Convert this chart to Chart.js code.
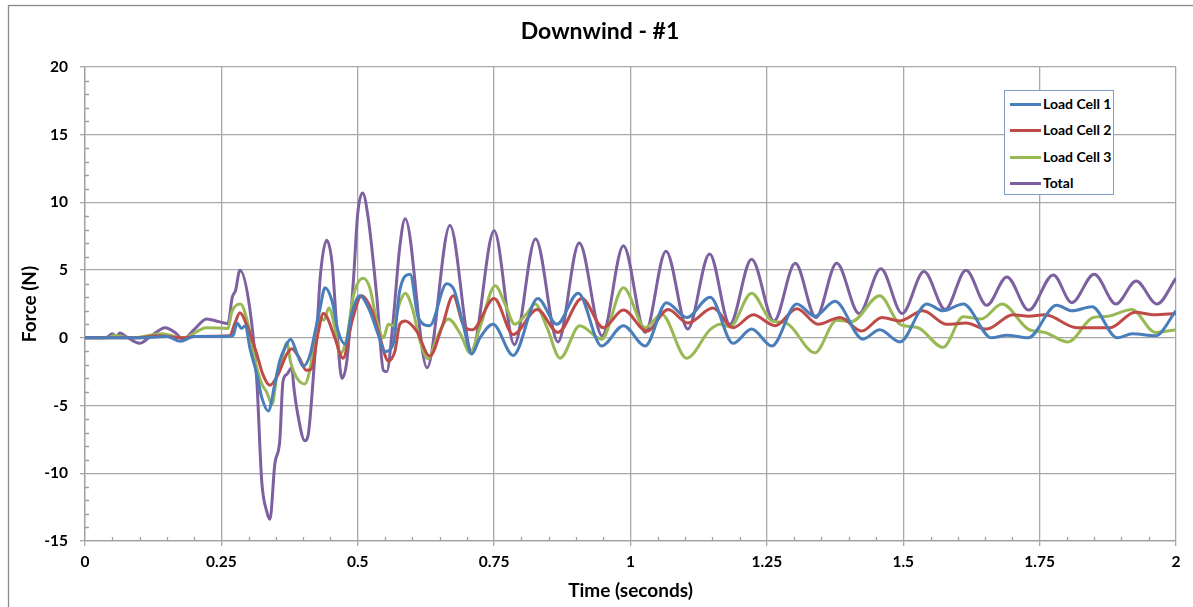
<!DOCTYPE html>
<html>
<head>
<meta charset="utf-8">
<title>Downwind - #1</title>
<script src="https://cdn.jsdelivr.net/npm/chart.js@4.4.1/dist/chart.umd.min.js"></script>
<style>
  body { margin: 0; background: #fff; }
  #wrap { position: relative; width: 1193px; height: 607px; }
  #legend {
    position: absolute; left: 1004px; top: 90px; width: 110px; height: 105px;
    border: 1px solid #7f9ccb; background: #fff; box-sizing: border-box;
    font: bold 14px Lato, "Liberation Sans", sans-serif; color: #000;
  }
  .item { position: absolute; left: 5px; height: 16px; line-height: 16px; white-space: nowrap; }
  .item i { display: inline-block; width: 31px; height: 3px; vertical-align: middle; margin-right: 2px; position: relative; top: -1px; }
</style>
</head>
<body>
<div id="wrap">
  <canvas id="myChart"></canvas>
  <div id="legend"></div>
</div>
<script>
// 시간(초) / 힘(N) 값 - 그림에서 읽은 값
var lc1Time = [0, 0.1, 0.15, 0.175, 0.2, 0.26, 0.271, 0.279, 0.287, 0.294, 0.302, 0.315, 0.324, 0.336, 0.348, 0.357, 0.367, 0.377, 0.389, 0.4, 0.413, 0.421, 0.431, 0.44, 0.453, 0.464, 0.477, 0.489, 0.504, 0.522, 0.537, 0.55, 0.565, 0.577, 0.596, 0.611, 0.632, 0.663, 0.677, 0.693, 0.709, 0.724, 0.748, 0.785, 0.83, 0.865, 0.904, 0.947, 0.987, 1.027, 1.066, 1.103, 1.146, 1.188, 1.222, 1.259, 1.305, 1.338, 1.375, 1.426, 1.457, 1.494, 1.543, 1.573, 1.61, 1.662, 1.69, 1.729, 1.781, 1.81, 1.846, 1.892, 1.92, 1.962, 2.0];
var lc1Force = [0, 0, 0.1, -0.25, 0.1, 0.1, 0.15, 1.1, 0.7, 0.9, -0.7, -2.7, -4.4, -5.4, -3.4, -1.7, -0.7, -0.1, -1.2, -2.1, -1.2, 0.3, 2.2, 3.7, 2.7, 0.5, -0.45, 1.8, 3.1, 2.0, 0.3, -1.0, -0.45, 3.5, 4.7, 1.5, 0.9, 4.0, 3.5, 1.0, -1.2, 0.0, 1.0, -1.3, 2.9, 1.0, 3.3, -0.6, 0.9, -0.6, 2.6, 1.5, 3.0, -0.4, 0.65, -0.6, 2.5, 1.6, 2.7, -0.1, 0.6, -0.3, 2.5, 2.0, 2.5, 0.0, 0.2, 0.0, 2.4, 2.0, 2.3, 0.0, 0.3, 0.15, 2.0];

var lc2Time = [0, 0.1, 0.13, 0.18, 0.2, 0.265, 0.275, 0.284, 0.297, 0.315, 0.326, 0.339, 0.354, 0.37, 0.379, 0.393, 0.406, 0.415, 0.427, 0.437, 0.444, 0.458, 0.473, 0.49, 0.507, 0.526, 0.541, 0.556, 0.568, 0.577, 0.587, 0.608, 0.632, 0.654, 0.675, 0.693, 0.71, 0.75, 0.785, 0.829, 0.867, 0.911, 0.95, 0.987, 1.03, 1.069, 1.105, 1.151, 1.188, 1.225, 1.265, 1.305, 1.344, 1.384, 1.424, 1.461, 1.494, 1.536, 1.58, 1.615, 1.653, 1.701, 1.73, 1.76, 1.818, 1.879, 1.925, 1.96, 2.0];
var lc2Force = [0, 0, 0.15, 0, 0.1, 0.15, 1.1, 1.85, 0.9, -1.2, -2.7, -3.5, -2.7, -1.2, -0.8, -1.5, -2.4, -2.3, 0.3, 1.8, 1.5, 0.0, -1.5, 1.3, 3.1, 2.0, 0.0, -1.7, -1.0, 1.0, 1.25, 0.5, -1.35, 0.75, 3.1, 1.0, 0.6, 2.9, 0.25, 2.1, 0.4, 2.9, 0.75, 2.05, 0.5, 2.1, 1.1, 2.2, 0.75, 1.7, 0.9, 2.15, 1.0, 1.5, 0.5, 1.5, 1.25, 2.0, 1.0, 1.1, 0.65, 1.7, 1.6, 1.7, 0.75, 0.75, 1.9, 1.7, 1.8];

var lc3Time = [0, 0.04, 0.055, 0.065, 0.09, 0.14, 0.18, 0.223, 0.262, 0.269, 0.285, 0.299, 0.312, 0.324, 0.333, 0.343, 0.352, 0.361, 0.37, 0.377, 0.389, 0.403, 0.413, 0.421, 0.431, 0.438, 0.447, 0.458, 0.467, 0.48, 0.492, 0.51, 0.522, 0.535, 0.547, 0.556, 0.565, 0.577, 0.587, 0.6, 0.614, 0.629, 0.645, 0.666, 0.688, 0.706, 0.724, 0.752, 0.77, 0.788, 0.81, 0.825, 0.847, 0.871, 0.907, 0.947, 0.987, 1.027, 1.057, 1.103, 1.146, 1.165, 1.182, 1.222, 1.259, 1.285, 1.338, 1.378, 1.405, 1.457, 1.494, 1.527, 1.573, 1.61, 1.643, 1.681, 1.729, 1.76, 1.802, 1.848, 1.875, 1.919, 1.962, 2.0];
var lc3Force = [0, 0, 0.2, 0.1, 0, 0.3, 0, 0.75, 0.7, 1.9, 2.5, 1.0, -1.7, -3.4, -4.0, -4.9, -2.7, -1.5, -0.35, -1.8, -3.0, -3.4, -2.2, -0.2, 1.5, 1.3, 2.2, 0.75, -1.2, 0.0, 3.1, 4.4, 3.7, 1.25, 0.0, 1.0, 0.9, 2.6, 3.3, 2.2, -0.2, -1.55, 0.0, 1.4, 0.3, -1.1, 0.75, 3.85, 2.5, 1.0, 1.8, 2.5, 0.75, -1.5, 0.9, -0.1, 3.7, 0.75, 1.75, -1.5, 0.6, 1.0, 0.8, 3.3, 1.25, 1.1, -1.1, 1.3, 1.2, 3.1, 1.0, 0.75, -0.7, 1.55, 1.4, 2.5, 0.65, 0.4, -0.3, 1.5, 1.6, 2.1, 0.4, 0.6];

var totalTime = [0, 0.02, 0.04, 0.05, 0.057, 0.064, 0.075, 0.1, 0.12, 0.147, 0.165, 0.18, 0.2, 0.223, 0.245, 0.262, 0.27, 0.276, 0.284, 0.302, 0.315, 0.324, 0.333, 0.339, 0.348, 0.357, 0.363, 0.37, 0.379, 0.383, 0.389, 0.403, 0.409, 0.418, 0.427, 0.431, 0.443, 0.453, 0.462, 0.471, 0.48, 0.492, 0.5, 0.509, 0.519, 0.535, 0.547, 0.553, 0.565, 0.577, 0.587, 0.627, 0.669, 0.709, 0.75, 0.787, 0.826, 0.867, 0.906, 0.948, 0.987, 1.027, 1.065, 1.105, 1.145, 1.182, 1.222, 1.263, 1.302, 1.34, 1.378, 1.419, 1.459, 1.498, 1.538, 1.577, 1.615, 1.653, 1.69, 1.73, 1.775, 1.809, 1.85, 1.89, 1.927, 1.965, 2.0];
var totalForce = [0, 0, 0.05, 0.3, 0.1, 0.35, 0.1, -0.4, 0.1, 0.75, 0.4, -0.1, 0.6, 1.4, 1.2, 1.05, 3.0, 3.5, 5.0, 2.2, -3.2, -10.6, -12.8, -13.4, -9.3, -7.6, -3.2, -2.7, -2.2, -3.7, -5.4, -7.6, -7.2, -3.2, 1.8, 4.4, 7.2, 5.5, 0.5, -3.0, -1.7, 4.2, 9.2, 10.7, 8.9, 3.0, -2.4, -2.5, 1.3, 6.7, 8.8, -2.2, 8.3, -1.0, 7.9, -0.5, 7.3, -0.3, 7.0, 0.15, 6.8, 0.4, 6.4, 0.65, 6.2, 1.0, 5.8, 1.25, 5.5, 1.5, 5.5, 1.8, 5.1, 1.8, 4.9, 2.1, 5.0, 2.4, 4.5, 2.05, 4.65, 2.6, 4.7, 2.5, 4.2, 2.5, 4.4];

var seriesNames = ['Load Cell 1', 'Load Cell 2', 'Load Cell 3', 'Total'];
var seriesColors = ['#4a7ebb', '#be4b48', '#98b954', '#7d60a0'];
var xTicks = [0, 0.25, 0.5, 0.75, 1, 1.25, 1.5, 1.75, 2];

function toPoints(ts, fs) {
    return ts.map(function(t, i) { return { x: t, y: fs[i] }; });
}

var allSeries = [
    toPoints(lc1Time, lc1Force),
    toPoints(lc2Time, lc2Force),
    toPoints(lc3Time, lc3Force),
    toPoints(totalTime, totalForce)
];

// 보조 눈금 + 바깥 테두리
var extras = {
    id: 'extras',
    beforeDraw: function(chart) {
        var ctx = chart.ctx;
        ctx.save();
        ctx.strokeStyle = '#8a8a8a';
        ctx.lineWidth = 1.3;
        ctx.strokeRect(8.5, 5.5, 1300, 700);
        ctx.restore();
    },
    afterDraw: function(chart) {
        var ctx = chart.ctx, xs = chart.scales.x, ys = chart.scales.y, a = chart.chartArea;
        ctx.save();
        ctx.strokeStyle = '#a0a0a0';
        ctx.lineWidth = 1.3;
        ctx.beginPath();
        for (var i = 1; i < 40; i++) {
            if (i % 5 === 0) continue;
            var px = Math.round(xs.getPixelForValue(i * 0.05)) + 0.5;
            ctx.moveTo(px, a.bottom);
            ctx.lineTo(px, a.bottom - 4);
        }
        for (var v = -14; v < 20; v++) {
            if (v % 5 === 0) continue;
            var py = Math.round(ys.getPixelForValue(v)) + 0.5;
            ctx.moveTo(a.left, py);
            ctx.lineTo(a.left + 4, py);
        }
        ctx.stroke();
        ctx.restore();
    }
};

var tickFont = { family: 'Lato, "Liberation Sans", sans-serif', size: 15.5, weight: 'bold' };
var titleFont = { family: 'Lato, "Liberation Sans", sans-serif', size: 19, weight: 'bold' };

var ctx = document.getElementById('myChart').getContext('2d');
var myChart = new Chart(ctx, {
    type: 'line',
    data: {
        datasets: allSeries.map(function(pts, i) {
            return {
                label: seriesNames[i],
                data: pts,
                borderColor: seriesColors[i],
                backgroundColor: seriesColors[i],
                borderWidth: 3,
                pointRadius: 0,
                cubicInterpolationMode: 'monotone',
                fill: false
            };
        })
    },
    options: {
        responsive: true,
        maintainAspectRatio: false,
        animation: false,
        layout: { padding: { left: 24, right: 17, top: 0, bottom: 0 } },
        plugins: {
            legend: { display: false },
            tooltip: { enabled: false },
            title: {
                display: true,
                text: 'Downwind - #1',
                color: '#000',
                font: { family: 'Lato, "Liberation Sans", sans-serif', size: 23, weight: 'bold' },
                padding: { top: 18.2, bottom: 21.2 }
            }
        },
        scales: {
            x: {
                type: 'linear',
                min: 0,
                max: 2,
                afterBuildTicks: function(scale) {
                    scale.ticks = xTicks.map(function(v) { return { value: v }; });
                },
                afterFit: function(scale) { scale.height = 66; },
                ticks: {
                    color: '#000',
                    font: tickFont,
                    padding: 7,
                    maxRotation: 0,
                    callback: function(v) { return String(Math.round(v * 100) / 100); }
                },
                grid: { color: '#a8a8a8', lineWidth: 1.3, tickLength: 5 },
                border: { color: '#a0a0a0', width: 1.3 },
                title: { display: true, text: 'Time (seconds)', color: '#000', font: titleFont, padding: { top: 4, bottom: 4.6 } }
            },
            y: {
                min: -15,
                max: 20,
                ticks: { stepSize: 5, color: '#000', font: tickFont, padding: 12 },
                afterFit: function(scale) { scale.width = 61; },
                grid: { color: '#a8a8a8', lineWidth: 1.3, tickLength: 5 },
                border: { color: '#a0a0a0', width: 1.3 },
                title: { display: true, text: 'Force (N)', color: '#000', font: titleFont, padding: { top: -5.4, bottom: 4 } }
            }
        }
    },
    plugins: [extras]
});

// 범례 (차트 안쪽 오른쪽 위)
var legend = document.getElementById('legend');
seriesNames.forEach(function(name, i) {
    var row = document.createElement('div');
    row.className = 'item';
    row.style.top = (5 + i * 26.3) + 'px';
    row.innerHTML = '<i style="background:' + seriesColors[i] + '"></i>' + name;
    legend.appendChild(row);
});
</script>
</body>
</html>
